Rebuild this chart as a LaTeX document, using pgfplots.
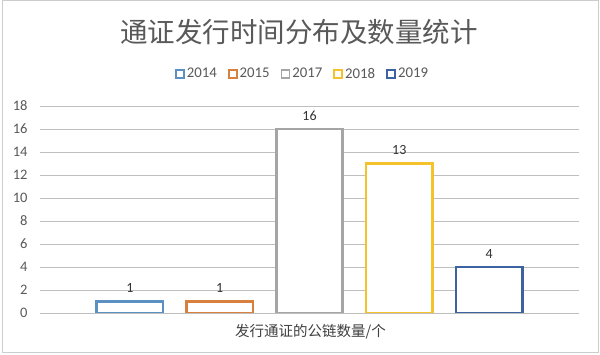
\documentclass[border=0pt]{standalone}
\usepackage{pgfplots}
\pgfplotsset{compat=1.18}
\usepackage{fontspec}
\setmainfont{Carlito}
\newfontfamily\cjk{Noto Sans CJK SC}
\definecolor{cA}{HTML}{5A90C2}
\definecolor{cB}{HTML}{D8813E}
\definecolor{cC}{HTML}{A5A5A5}
\definecolor{cD}{HTML}{F5C22B}
\definecolor{cE}{HTML}{3C62A0}
\definecolor{txt}{HTML}{595959}
\definecolor{grid}{HTML}{D9D9D9}
\begin{document}
\begin{tikzpicture}[x=1pt,y=1pt]
\useasboundingbox (0,0) rectangle (600,355);
\fill[white] (0,0) rectangle (600,355);
\draw[color=black!20, line width=1pt] (2,2.5) rectangle (598,354);
\begin{axis}[
  at={(40pt,42pt)}, anchor=south west,
  scale only axis, width=539pt, height=207pt,
  xmin=0, xmax=6, ymin=0, ymax=18,
  ytick={0,2,...,18},
  xtick=\empty,
  axis line style={draw=none},
  ymajorgrids, grid style={grid, line width=0.8pt},
  major tick length=0pt,
  /pgf/number format/assume math mode=true,
  tick label style={font=\fontsize{14.5}{14.5}\selectfont, text=txt},
  yticklabel style={xshift=-9pt},
  ybar, bar width=0.74, bar shift=0pt,
  nodes near coords,
  nodes near coords style={font=\fontsize{14}{14}\selectfont, text=black!80, yshift=4pt},
  xlabel={\cjk 发行通证的公链数量/个},
  xlabel style={font=\fontsize{14.5}{14.5}\selectfont, text=black!75, at={(axis description cs:0.502,0)}, anchor=north, yshift=-8pt},
  legend style={at={(0.487,1.155)}, anchor=center, draw=none, fill=none,
    legend columns=-1, font=\fontsize{14.8}{14.8}\selectfont, text=txt,
    /tikz/every even column/.append style={column sep=9pt}},
  legend image code/.code={\draw[#1, line width=1.8pt, fill=white] (0pt,-4pt) rectangle (8pt,4pt);},
  legend cell align=left,
]
\addplot[draw=cA, fill=white, line width=2.6pt] coordinates {(1,1)};
\addplot[draw=cB, fill=white, line width=2.6pt] coordinates {(2,1)};
\addplot[draw=cC, fill=white, line width=2.6pt] coordinates {(3,16)};
\addplot[draw=cD, fill=white, line width=2.6pt] coordinates {(4,13)};
\addplot[draw=cE, fill=white, line width=2.6pt] coordinates {(5,4)};
\legend{2014,2015,2017,2018,2019}
\end{axis}
\node[font=\cjk\fontsize{27.5}{27.5}\selectfont, text=txt] at (299,323) {通证发行时间分布及数量统计};
\end{tikzpicture}
\end{document}
